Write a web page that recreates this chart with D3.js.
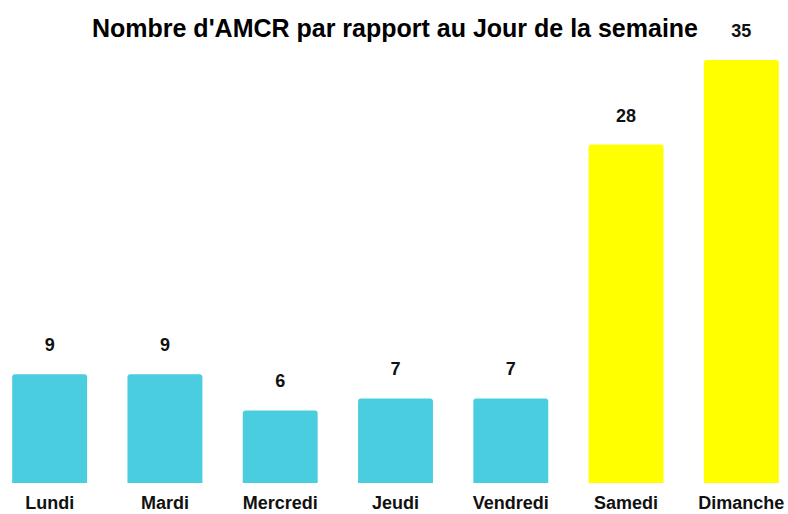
<!DOCTYPE html>
<html><head><meta charset="utf-8">
<script src="https://cdn.jsdelivr.net/npm/d3@7/dist/d3.min.js"></script>
<style>body{margin:0;background:#fff}svg{display:block}</style>
</head><body>
<script>
const categories = ["Lundi","Mardi","Mercredi","Jeudi","Vendredi","Samedi","Dimanche"];
const values = [9,9,6,7,7,28,35];
const barColors = ["#4bcde0","#4bcde0","#4bcde0","#4bcde0","#4bcde0","#ffff00","#ffff00"];
const title = "Nombre d'AMCR par rapport au Jour de la semaine";

const W = 788, H = 514;
const FONT = "Liberation Sans, Arial, sans-serif";
const svg = d3.select("body").append("svg").attr("width", W).attr("height", H);

const x = d3.scaleBand().domain(categories).range([-8, 799]).paddingInner(0.35).paddingOuter(0.175);
const y = d3.scaleLinear().domain([0, 35]).range([483, 60]);

svg.append("text").attr("x", 395).attr("y", 37).attr("text-anchor", "middle")
  .attr("font-family", FONT).attr("font-weight", "bold")
  .attr("font-size", 25).attr("fill", "#000").text(title);

const r = 3;
function barPath(d, i) {
  const x0 = x(categories[i]), w = x.bandwidth(), y0 = y(d), y1 = y(0);
  return `M${x0},${y1}V${y0 + r}Q${x0},${y0} ${x0 + r},${y0}H${x0 + w - r}Q${x0 + w},${y0} ${x0 + w},${y0 + r}V${y1}Z`;
}
svg.selectAll("path.bar").data(values).enter().append("path").attr("class", "bar")
  .attr("d", barPath).attr("fill", (d, i) => barColors[i]);

svg.selectAll("text.val").data(values).enter().append("text").attr("class", "val")
  .attr("x", (d, i) => x(categories[i]) + x.bandwidth() / 2)
  .attr("y", d => y(d) - 23)
  .attr("text-anchor", "middle").attr("font-family", FONT)
  .attr("font-weight", "bold").attr("font-size", 18).attr("fill", "#111").text(d => d);

const ax = svg.append("g").attr("transform", "translate(0,483)")
  .call(d3.axisBottom(x).tickSize(0).tickPadding(13));
ax.select(".domain").remove();
ax.selectAll("text").attr("font-family", FONT).attr("font-weight", "bold")
  .attr("font-size", 18).attr("fill", "#111");
</script>
</body></html>
